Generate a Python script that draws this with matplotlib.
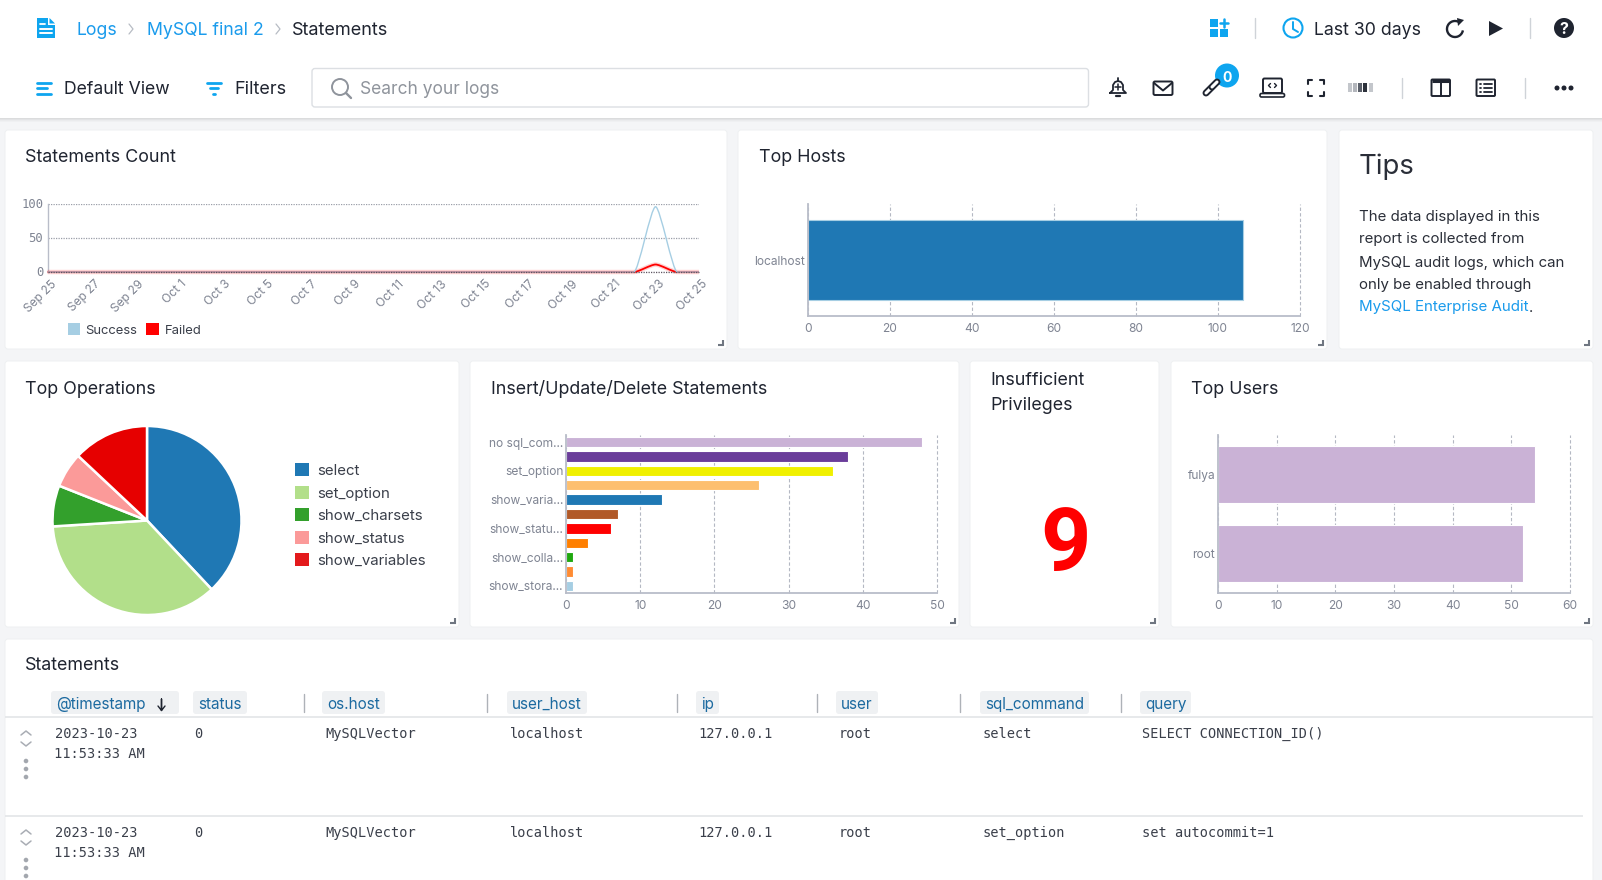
#!/usr/bin/env python3
"""Logs dashboard screenshot redrawn with matplotlib."""

import matplotlib

matplotlib.use("Agg")
import matplotlib.pyplot as plt  # noqa: E402
from matplotlib.patches import Circle, FancyBboxPatch, PathPatch, Polygon, Rectangle  # noqa: E402
from matplotlib.path import Path  # noqa: E402
from matplotlib.transforms import Affine2D, ScaledTranslation  # noqa: E402

W, H = 1602, 880

DAYS = [
    "Sep 25", "Sep 26", "Sep 27", "Sep 28", "Sep 29", "Sep 30", "Oct 1", "Oct 2",
    "Oct 3", "Oct 4", "Oct 5", "Oct 6", "Oct 7", "Oct 8", "Oct 9", "Oct 10",
    "Oct 11", "Oct 12", "Oct 13", "Oct 14", "Oct 15", "Oct 16", "Oct 17", "Oct 18",
    "Oct 19", "Oct 20", "Oct 21", "Oct 22", "Oct 23", "Oct 24", "Oct 25",
]
SUCCESS = [0, 0, 0, 0, 0, 0, 0, 0, 0, 0, 0, 0, 0, 0, 0, 0,
           0, 0, 0, 0, 0, 0, 0, 0, 0, 0, 0, 0, 96, 0, 0]
FAILED = [0, 0, 0, 0, 0, 0, 0, 0, 0, 0, 0, 0, 0, 0, 0, 0,
          0, 0, 0, 0, 0, 0, 0, 0, 0, 0, 0, 0, 11, 0, 0]

HOSTS = ["localhost"]
HOST_COUNTS = [106]

OPERATIONS = ["select", "set_option", "show_charsets", "show_status", "show_variables"]
OPERATION_COUNTS = [38, 36, 7, 6, 13]
OPERATION_COLORS = ["#1f78b4", "#b2df8a", "#33a02c", "#fb9a99", "#e60000"]
OPERATION_SWATCHES = ["#1f78b4", "#b2df8a", "#33a02c", "#fb9a99", "#e31a1c"]

STATEMENT_LABELS = ["no sql_com...", "", "set_option", "", "show_varia...", "",
                    "show_statu...", "", "show_colla...", "", "show_stora..."]
STATEMENT_COUNTS = [48, 38, 36, 26, 13, 7, 6, 3, 1, 1, 1]
STATEMENT_COLORS = ["#cab2d6", "#6a3d9a", "#f0f000", "#fdbf6f", "#1f78b4", "#b15928",
                    "#ff0000", "#ff7f00", "#1fa80f", "#ff8c33", "#a6cee3"]

USERS = ["fulya", "root"]
USER_COUNTS = [54, 52]

COLUMNS = ["@timestamp", "status", "os.host", "user_host", "ip", "user", "sql_command", "query"]
ROW_1 = ["2023-10-23", "0", "MySQLVector", "localhost", "127.0.0.1", "root", "select",
         "SELECT CONNECTION_ID()"]
ROW_2 = ["2023-10-23", "0", "MySQLVector", "localhost", "127.0.0.1", "root", "set_option",
         "set autocommit=1"]
ROW_TIME = "11:53:33 AM"

BLUE = "#0ea5ef"
LINK = "#1a9bec"
DARK = "#1f2430"
TICK = "#7f8492"
AXIS = "#b9bdc9"
GRID = "#b4b8c3"
SANS = "Inter"
MONO = "DejaVu Sans Mono"

plt.rcParams["font.family"] = [SANS, "DejaVu Sans"]

fig = plt.figure(figsize=(W / 100, H / 100), dpi=100, facecolor="#f4f5f7")
bg = fig.add_axes([0, 0, 1, 1], zorder=0)
bg.set_xlim(0, W)
bg.set_ylim(H, 0)
bg.axis("off")


def px(size):
    return size * 0.72


def text(x, y, s, size=17.9, color=DARK, **kw):
    kw.setdefault("va", "center_baseline")
    bg.text(x, y, s, fontsize=px(size), color=color, **kw)


def line(xs, ys, color=DARK, lw=1.3, **kw):
    kw.setdefault("solid_capstyle", "round")
    bg.plot(xs, ys, color=color, lw=lw, **kw)


def box(x0, y0, x1, y1, color="white", edge="none", lw=0, r=3, **kw):
    bg.add_patch(FancyBboxPatch((x0, y0), x1 - x0, y1 - y0,
                                boxstyle=f"round,pad=0,rounding_size={r}",
                                fc=color, ec=edge, lw=lw, **kw))


def panel(x0, y0, x1, y1, corner=True):
    box(x0, y0, x1, y1, edge="#eef0f2", lw=0.7)
    if corner:
        line([x1 - 9, x1 - 4, x1 - 4], [y1 - 4, y1 - 4, y1 - 9], color="#6f7681", lw=1.5,
             solid_capstyle="butt", solid_joinstyle="miter")


def chart_axes(x0, y0, x1, y1):
    ax = fig.add_axes([x0 / W, 1 - y1 / H, (x1 - x0) / W, (y1 - y0) / H], zorder=2)
    ax.patch.set_alpha(0)
    for side in ("top", "right"):
        ax.spines[side].set_visible(False)
    for side in ("left", "bottom"):
        ax.spines[side].set_color(AXIS)
        ax.spines[side].set_linewidth(1.3)
    ax.tick_params(length=0, labelsize=px(12), labelcolor=TICK, pad=5)
    ax.set_axisbelow(True)
    return ax


def peak_path(xs, ys, handle=0.22):
    # rounded joints, nearly straight flanks, flat tangents at every kink
    verts = [(xs[0], ys[0])]
    codes = [Path.MOVETO]
    for i in range(len(xs) - 1):
        d = (xs[i + 1] - xs[i]) * handle
        verts += [(xs[i] + d, ys[i]), (xs[i + 1] - d, ys[i + 1]), (xs[i + 1], ys[i + 1])]
        codes += [Path.CURVE4] * 3
    return Path(verts, codes)


def bar_chart(rect, labels, values, colors, xmax, step, height):
    ax = chart_axes(*rect)
    y = list(range(len(values)))
    ax.barh(y, values, height=height, color=colors, edgecolor="white", linewidth=0.8)
    ax.set_ylim(len(values) - 0.5, -0.5)
    ax.set_xlim(0, xmax)
    ax.set_xticks(list(range(0, xmax + 1, step)))
    ax.set_yticks(y, labels)
    ax.tick_params(axis="y", pad=2)
    ax.grid(True, axis="x", linestyle=(0, (3, 2)), linewidth=0.8, color=GRID)
    for g in ax.get_xgridlines():
        g.set_clip_on(False)
    return ax


# ---- page chrome
bg.add_patch(Rectangle((0, 0), W, 118, fc="white", ec="none", zorder=0.5))
for i, a in enumerate((0.10, 0.07, 0.04, 0.02)):
    bg.add_patch(Rectangle((0, 118 + i), W, 1, fc="black", alpha=a, ec="none", zorder=0.5))

# breadcrumb
bg.add_patch(Polygon([(37, 18), (48, 18), (48, 25), (55, 25), (55, 38), (37, 38)], fc=BLUE, ec="none"))
bg.add_patch(Polygon([(49.5, 18), (55, 23.5), (49.5, 23.5)], fc=BLUE, ec="none"))
line([40, 45], [24.5, 24.5], color="white", lw=1.3)
for yy in (29, 33):
    line([40, 52], [yy, yy], color="white", lw=1.4)
text(76, 28.5, "Logs", size=17.7, color=LINK)
line([129, 133, 129], [24, 29, 34], color="#b7bcc4", lw=0.9)
text(147, 28.5, "MySQL final 2", size=17.7, color=LINK)
line([276, 280, 276], [24, 29, 34], color="#b7bcc4", lw=0.9)
text(292, 28.5, "Statements", size=18.1, color=DARK)

# top right
for x0, y0 in ((1210, 19), (1210, 29), (1220, 29)):
    bg.add_patch(Rectangle((x0, y0), 8, 8, fc=BLUE, ec="none"))
line([1224, 1224], [19, 27], color=BLUE, lw=1.8)
line([1220, 1228], [23, 23], color=BLUE, lw=1.8)
line([1255, 1255], [18, 38], color="#cfd3d8", lw=1)
bg.add_patch(Circle((1293, 28), 9.5, fc="white", ec=BLUE, lw=1.5))
line([1293, 1293, 1298], [22, 29, 32], color=BLUE, lw=1.4)
text(1314, 28.5, "Last 30 days", size=17.7, color=DARK)
bg.add_patch(PathPatch(Path.arc(65, 350).transformed(Affine2D().scale(8, -8).translate(1455, 29)),
                       fc="none", ec=DARK, lw=1.7))
bg.add_patch(Polygon([(1457, 18), (1464, 20), (1458, 26)], fc=DARK, ec="none"))
bg.add_patch(Polygon([(1489, 21), (1503, 28.5), (1489, 36)], fc=DARK, ec="none"))
line([1530, 1530], [18, 38], color="#cfd3d8", lw=1)
bg.add_patch(Circle((1564, 28), 10, fc=DARK, ec="none"))
text(1564, 28.5, "?", size=16, color="white", ha="center", fontweight="bold")

# toolbar
for yy, x1 in ((83, 51), (88.5, 47), (94, 51)):
    line([37, x1], [yy, yy], color=BLUE, lw=2)
text(64, 88, "Default View", size=17.6, color=DARK)
for yy, x0, x1 in ((83, 207, 221), (88.5, 210, 218), (94, 213, 215)):
    line([x0, x1], [yy, yy], color=BLUE, lw=2)
text(234.5, 88, "Filters", size=18, color=DARK)
box(312, 68.5, 1088.5, 107, edge="#dcdfe3", lw=1)
bg.add_patch(Circle((340, 87), 8, fc="none", ec="#8f949c", lw=1.4))
line([346, 351], [93, 98], color="#8f949c", lw=1.7)
text(360, 88, "Search your logs", size=17.4, color="#8f949c")

# bell
line([1110, 1113, 1113, 1115, 1118, 1121, 1123, 1123, 1126, 1110],
     [93, 90, 85, 82, 81, 82, 85, 90, 93, 93], lw=1.3)
line([1118, 1118], [78.5, 81], lw=1.3)
line([1118, 1118], [84.5, 90], lw=1.1)
line([1115.3, 1120.7], [87.3, 87.3], lw=1.1)
line([1116, 1120], [96.5, 96.5], lw=1.6)
# mail
box(1153.5, 81.5, 1172.5, 95, edge=DARK, lw=1.4, r=1.5)
line([1154, 1163, 1172], [83, 90.5, 83], lw=1.4)
# chain
for xs, ys in (([1206, 1211], [93, 88]), ([1212, 1217], [87, 82])):
    line(xs, ys, lw=5.0)
    line(xs, ys, lw=2.2, color="white")
bg.add_patch(Circle((1227, 75.5), 12, fc=BLUE, ec="none"))
text(1227, 76, "0", size=14, color="white", ha="center", fontweight="bold")
# monitor
box(1263, 78.5, 1282, 93, edge=DARK, lw=1.4, r=1.5)
box(1260, 93.5, 1284.5, 97, edge=DARK, lw=1.2, r=1.5)
line([1270.5, 1268.5, 1270.5], [83.5, 85.5, 87.5], lw=1)
line([1274.5, 1276.5, 1274.5], [83.5, 85.5, 87.5], lw=1)
# fullscreen
for cx, sx in ((1307.5, 1), (1323.5, -1)):
    line([cx + 4 * sx, cx, cx], [80, 80, 84], lw=1.5)
    line([cx + 4 * sx, cx, cx], [96, 96, 92], lw=1.5)
# barcode
for xx, shade in ((1349.5, "#c3c6cb"), (1354.5, "#b3b6bc"), (1360, "#5b606a"),
                  (1365, "#2c313b"), (1371, "#c3c6cb")):
    line([xx, xx], [83.5, 92.5], color=shade, lw=2.9, solid_capstyle="butt")
line([1401.5, 1401.5], [78, 98], color="#cfd3d8", lw=1)
# columns
box(1431.5, 79.5, 1450, 96, edge=DARK, lw=1.4, r=1)
line([1441, 1441], [80, 96], lw=1.4)
line([1432, 1450], [81, 81], lw=2.2, solid_capstyle="butt")
# list
box(1476.5, 79.5, 1495, 96, edge=DARK, lw=1.4, r=1)
for yy in (84, 88, 92):
    line([1480, 1481], [yy, yy], lw=1.3)
    line([1484, 1492], [yy, yy], lw=1.3)
line([1525, 1525], [78, 98], color="#cfd3d8", lw=1)
for xx in (1557, 1564, 1571):
    bg.add_patch(Circle((xx, 88), 2.5, fc=DARK, ec="none"))

# ---- panels
panel(5, 130, 727, 349)
panel(738, 130, 1327, 349)
panel(1339, 130, 1593, 349)
panel(5, 361, 459, 627)
panel(470, 361, 959, 627)
panel(970, 361, 1159, 627)
panel(1171, 361, 1593, 627)
panel(5, 639, 1593, 900, corner=False)

text(25, 156, "Statements Count")
text(759, 156, "Top Hosts")
text(25, 387, "Top Operations")
text(491, 386.5, "Insert/Update/Delete Statements")
text(1191, 387, "Top Users")
text(990.5, 378.5, "Insufficient")
text(990.5, 404, "Privileges")
text(25, 664, "Statements")

# ---- statements count
ax = chart_axes(47.5, 204, 699, 272)
x = list(range(len(DAYS)))
ax.add_patch(PathPatch(peak_path(x, FAILED), fc="none", ec="#ff0000", lw=3.2, alpha=0.18, zorder=3, clip_on=False))
ax.add_patch(PathPatch(peak_path(x, FAILED), fc="none", ec="#ff0000", lw=1.3, zorder=4, clip_on=False))
ax.add_patch(PathPatch(peak_path(x, SUCCESS), fc="none", ec="#a6cee3", lw=1.0, zorder=5, clip_on=False))
ax.axhline(0, color="#5d5560", lw=0.9, linestyle=(0, (1, 1)), zorder=6, clip_on=False)
ax.set_xlim(0, 30)
ax.set_ylim(0, 100)
ax.set_yticks([0, 50, 100])
ax.set_xticks(x[::2], DAYS[::2])
ax.grid(True, axis="y", linestyle=(0, (1, 1)), linewidth=0.9, color="#9a9ea8")
ax.spines["bottom"].set_visible(False)
ax.spines["left"].set_linewidth(1.0)
ax.tick_params(axis="y", pad=3)
y_shift = ScaledTranslation(0, 1 / 100, fig.dpi_scale_trans)
for lab in ax.get_yticklabels():
    lab.set_family(MONO)
    lab.set_fontsize(px(12.3))
    lab.set_transform(lab.get_transform() + y_shift)
x_shift = ScaledTranslation(3 / 100, 1 / 100, fig.dpi_scale_trans)
for lab in ax.get_xticklabels():
    lab.set_rotation(45)
    lab.set_ha("right")
    lab.set_rotation_mode("anchor")
    lab.set_transform(lab.get_transform() + x_shift)

bg.add_patch(Rectangle((68, 323), 12, 12, fc="#a6cee3", ec="none"))
text(85.5, 329, "Success", size=13, color="#3a3f4a")
bg.add_patch(Rectangle((146, 323), 13, 12, fc="#ff0000", ec="none"))
text(165, 329, "Failed", size=13, color="#3a3f4a")

# ---- top hosts
ax = bar_chart((808, 204, 1300, 316), HOSTS, HOST_COUNTS, ["#1f78b4"], 120, 20, 0.72)
ax.patches[0].set_edgecolor("#a6cee3")

# ---- tips
text(1359, 164, "Tips", size=27.5, color="#2a2e38")
tips = ["The data displayed in this", "report is collected from",
        "MySQL audit logs, which can", "only be enabled through"]
for yy, s in zip((216, 238, 261, 283), tips):
    text(1359, yy, s, size=15, color="#2a2e38")
text(1359, 306, "MySQL Enterprise Audit", size=15.1, color=LINK)
text(1529, 306, ".", size=15, color="#2a2e38")

# ---- top operations
pie_ax = fig.add_axes([(147 - 94.5) / W, 1 - (520.5 + 94.5) / H, 189 / W, 189 / H], zorder=2)
pie_ax.pie(OPERATION_COUNTS, colors=OPERATION_COLORS, startangle=90, counterclock=False, radius=1,
           wedgeprops={"edgecolor": "white", "linewidth": 1.8})
pie_ax.set_xlim(-1, 1)
pie_ax.set_ylim(-1, 1)
for yy, s, c in zip((469, 492, 514, 537, 559), OPERATIONS, OPERATION_SWATCHES):
    bg.add_patch(Rectangle((295, yy - 6), 13.5, 13, fc=c, ec="none"))
    text(317, yy + 6, s, size=15, color="#3a3f4a", va="baseline")

# ---- insert/update/delete
bar_chart((566, 435, 937, 593), STATEMENT_LABELS, STATEMENT_COUNTS, STATEMENT_COLORS, 50, 10, 0.72)

# ---- insufficient privileges
text(1065, 570, "9", size=88, color="#ff0000", ha="center", va="baseline", fontweight="bold", family="Roboto")

# ---- top users
bar_chart((1218, 435, 1570, 593), USERS, USER_COUNTS, ["#cab2d6", "#cab2d6"], 60, 10, 0.72)

# ---- table
CHIPS = [(51, 179), (193, 247), (322, 385), (507, 587), (696, 719), (836, 878), (980, 1089), (1140, 1191)]
CELL_X = [54.5, 194, 325, 510, 698, 839, 983, 1142]
for (x0, x1), name in zip(CHIPS, COLUMNS):
    box(x0, 691, x1, 714, color="#eff1f3", r=3)
    text(x0 + 5, 703, name, size=15.3, color="#1c6aa0")
line([158, 161.5, 161.5, 161.5, 165], [706, 710.5, 699, 710.5, 706], color=DARK, lw=1.0)
for xx in (303.5, 487, 676.5, 817, 960, 1121):
    line([xx, xx], [694, 712], color="#aeb2b8", lw=1)
line([5, 1593], [717, 717], color="#e3e5e8", lw=1.2, solid_capstyle="butt")
line([5, 1583], [816, 816], color="#e3e5e8", lw=1.2, solid_capstyle="butt")

for offset, row in ((0, ROW_1), (99, ROW_2)):
    for xx, s in zip(CELL_X, row):
        text(xx, 738 + offset, s, size=13.65, color="#3a3f4a", family=MONO, va="baseline")
    text(CELL_X[0], 758 + offset, ROW_TIME, size=13.65, color="#3a3f4a", family=MONO, va="baseline")
    line([21, 26, 31], [735 + offset, 731 + offset, 735 + offset], color="#a9adb4", lw=1.1)
    line([21, 26, 31], [742 + offset, 746 + offset, 742 + offset], color="#a9adb4", lw=1.1)
    for yy in (761, 769, 777):
        bg.add_patch(Circle((26, yy + offset), 2.3, fc="#a3a7ae", ec="none"))

fig.savefig("out.png", dpi=100, facecolor=fig.get_facecolor())
